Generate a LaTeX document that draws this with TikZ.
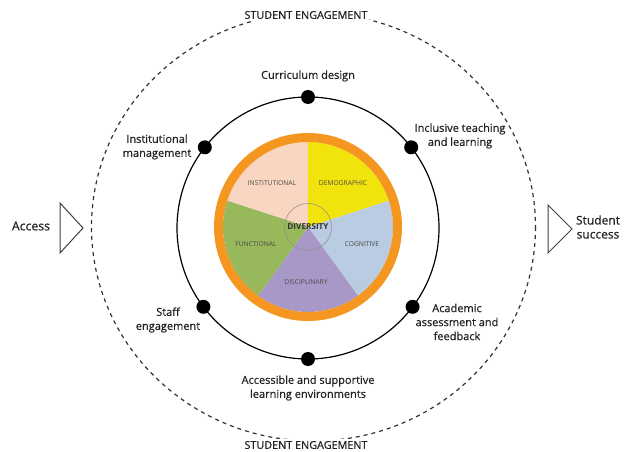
\documentclass[tikz,border=0pt]{standalone}
\usepackage{fontspec}
\setmainfont{Open Sans}
\newfontfamily\semifont{Open Sans}[FakeBold=0.6]
\definecolor{cPeach}{RGB}{248,214,194}
\definecolor{cYellow}{RGB}{240,228,12}
\definecolor{cBlue}{RGB}{186,204,226}
\definecolor{cPurple}{RGB}{168,152,200}
\definecolor{cGreen}{RGB}{152,184,92}
\definecolor{cOrange}{RGB}{244,150,32}
\definecolor{cText}{RGB}{35,35,35}
\begin{document}
\begin{tikzpicture}[x=1pt,y=-1pt,
  lbl/.style={font=\semifont\fontsize{11}{14}\selectfont, text=cText, align=center, inner sep=0pt},
  eng/.style={font=\semifont\fontsize{10.8}{12}\selectfont, text=cText, fill=white, inner sep=2pt},
  pielbl/.style={font=\fontsize{6.7}{8}\selectfont, text=black!70, inner sep=0pt},
  dotnode/.style={circle, fill=black, minimum size=14pt, inner sep=0pt},
  arrowtri/.style={draw=black!75, line width=1pt, fill=white, line join=miter}]
\useasboundingbox (0,0) rectangle (624,452);
\fill[white] (0,0) rectangle (624,452);

% outer dashed ring
\draw[black!80, line width=1.2pt, dash pattern=on 4pt off 4pt] (313.5,227) ellipse[x radius=222, y radius=214];
\node[eng] (engtop) at (306,15) {STUDENT ENGAGEMENT};
\node[eng] (engbot) at (306,445) {STUDENT ENGAGEMENT};

% solid ring
\draw[black, line width=1.2pt] (308,228) circle[radius=131];

% pie
\begin{scope}[shift={(308,227)}, y=1pt]
  \fill[cPeach]  (0,0) -- (90:85) arc[start angle=90, end angle=162, radius=85] -- cycle;
  \fill[cYellow] (0,0) -- (18:85) arc[start angle=18, end angle=90, radius=85] -- cycle;
  \fill[cBlue]   (0,0) -- (-54:85) arc[start angle=-54, end angle=18, radius=85] -- cycle;
  \fill[cPurple] (0,0) -- (-126:85) arc[start angle=-126, end angle=-54, radius=85] -- cycle;
  \fill[cGreen]  (0,0) -- (162:85) arc[start angle=162, end angle=234, radius=85] -- cycle;
  \draw[cOrange, line width=9pt] (0,0) circle[radius=89.5];
  \draw[black!45, line width=0.5pt] (0,0) circle[radius=23.5];
\end{scope}

\node[pielbl] (inst) at (272,183) {INSTITUTIONAL};
\node[pielbl] (demo) at (343,183) {DEMOGRAPHIC};
\node[pielbl] (cogn) at (362,244) {COGNITIVE};
\node[pielbl] (disc) at (306,282) {DISCIPLINARY};
\node[pielbl] (func) at (256,244) {FUNCTIONAL};
\node[font=\fontsize{8.2}{9}\selectfont\bfseries, text=black!80, inner sep=0pt] (div) at (308,227) {DIVERSITY};

% dots
\node[dotnode] (d1) at (308,97) {};
\node[dotnode] (d2) at (204.8,147.3) {};
\node[dotnode] (d3) at (411.2,147.3) {};
\node[dotnode] (d4) at (203.4,306.8) {};
\node[dotnode] (d5) at (412.6,306.8) {};
\node[dotnode] (d6) at (308,359) {};

% labels
\node[lbl] (l1) at (308,76) {Curriculum design};
\node[lbl] (l2) at (157,147) {Institutional\\management};
\node[lbl] (l3) at (460,136) {Inclusive teaching\\and learning};
\node[lbl] (l4) at (168,320) {Staff\\engagement};
\node[lbl] (l5) at (457,322) {Academic\\assessment and\\feedback};
\node[lbl] (l6) at (308,388) {Accessible and supportive\\learning environments};

% access / success
\draw[arrowtri] (60,203) -- (83,228) -- (60,253) -- cycle;
\draw[arrowtri] (548,205) -- (572,229) -- (548,253) -- cycle;
\node[lbl, font=\semifont\fontsize{12.3}{14}\selectfont] (acc) at (31,226) {Access};
\node[lbl, font=\semifont\fontsize{12}{14}\selectfont] (succ) at (598,227) {Student\\success};
\end{tikzpicture}
\end{document}
